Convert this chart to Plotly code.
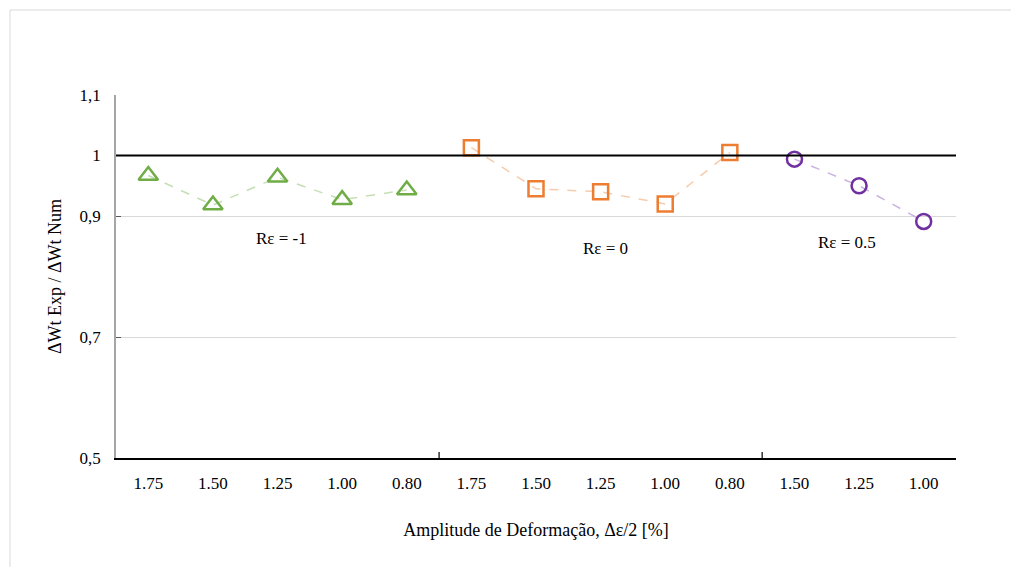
import plotly.graph_objects as go

categories = ["1.75", "1.50", "1.25", "1.00", "0.80",
              "1.75", "1.50", "1.25", "1.00", "0.80",
              "1.50", "1.25", "1.00"]
re_m1_values = [0.967, 0.918, 0.964, 0.927, 0.943]
re_0_values = [1.013, 0.945, 0.940, 0.920, 1.005]
re_05_values = [0.994, 0.950, 0.891]
y_ticks = [0.5, 0.7, 0.9, 1.0, 1.1]
y_tick_labels = ["0,5", "0,7", "0,9", "1", "1,1"]
group_labels = ["Rε = -1", "Rε = 0", "Rε = 0.5"]
group_label_pos = [(2.06, 0.862), (7.07, 0.847), (10.82, 0.857)]

idx = list(range(len(categories)))
x_m1 = idx[0:5]
x_0 = idx[5:10]
x_05 = idx[10:13]

FONT = "Times New Roman"

fig = go.Figure()
series = [
    (x_m1, re_m1_values, "triangle-up-open", "#70AD47", "#C5DFB4", 17),
    (x_0, re_0_values, "square-open", "#ED7D31", "#F8CBAD", 15),
    (x_05, re_05_values, "circle-open", "#7030A0", "#C9B5DE", 15),
]
for xs, ys, sym, col, lcol, sz in series:
    fig.add_trace(go.Scatter(
        x=xs, y=ys, mode="lines",
        line=dict(color=lcol, width=1.5, dash="dash"),
        showlegend=False, hoverinfo="skip"))
for xs, ys, sym, col, lcol, sz in series:
    fig.add_trace(go.Scatter(
        x=xs, y=ys, mode="markers",
        marker=dict(symbol=sym, size=sz, color=col, line=dict(color=col, width=2.5)),
        showlegend=False))

# page offset of 8px (body margin) -> plot area at 108..948 x, 87..450 y in figure coords
PL, PR, PT, PB = 108, 948, 87, 450
PW, PH = PR - PL, PB - PT

fig.add_shape(type="line", xref="paper", yref="y", x0=0, x1=1, y0=1, y1=1,
              line=dict(color="black", width=1.8), layer="above")
for b in [4.5, 9.5]:
    fig.add_shape(type="line", xref="x", yref="y", x0=b, x1=b, y0=0.5, y1=0.5 + 6 / 605,
                  line=dict(color="black", width=1.2))
fig.add_shape(type="rect", xref="paper", yref="paper",
              x0=(2 - PL) / PW, x1=(1040 - PL) / PW,
              y0=(PB - 600) / PH, y1=(PB - 2) / PH,
              line=dict(color="#D9D9D9", width=1))

for (gx, gy), txt in zip(group_label_pos, group_labels):
    fig.add_annotation(x=gx, y=gy, text=txt, showarrow=False,
                       font=dict(family=FONT, size=17, color="black"))

fig.update_layout(
    width=1019, height=567,
    margin=dict(l=PL, r=1019 - PR, t=PT, b=567 - PB),
    paper_bgcolor="white", plot_bgcolor="white",
    font=dict(family=FONT, size=16, color="black"),
    xaxis=dict(
        range=[-0.5, 12.5], tickvals=idx, ticktext=categories,
        showgrid=False, zeroline=False, showline=True, linecolor="black", linewidth=1.5,
        ticks="", ticklabelstandoff=9,
        title=dict(text="Amplitude de Deformação, Δε/2 [%]", standoff=31,
                   font=dict(family=FONT, size=18)),
        tickfont=dict(family=FONT, size=17),
    ),
    yaxis=dict(
        range=[0.5, 1.1], tickvals=y_ticks, ticktext=y_tick_labels,
        showgrid=True, gridcolor="#D9D9D9", gridwidth=1.3, zeroline=False,
        showline=True, linecolor="#A6A6A6", linewidth=1.5,
        ticks="inside", ticklen=5, tickcolor="#595959",
        ticklabelstandoff=10,
        title=dict(text="ΔWt Exp / ΔWt Num", standoff=13,
                   font=dict(family=FONT, size=18)),
        tickfont=dict(family=FONT, size=17),
    ),
)

fig.write_html("out.html")
